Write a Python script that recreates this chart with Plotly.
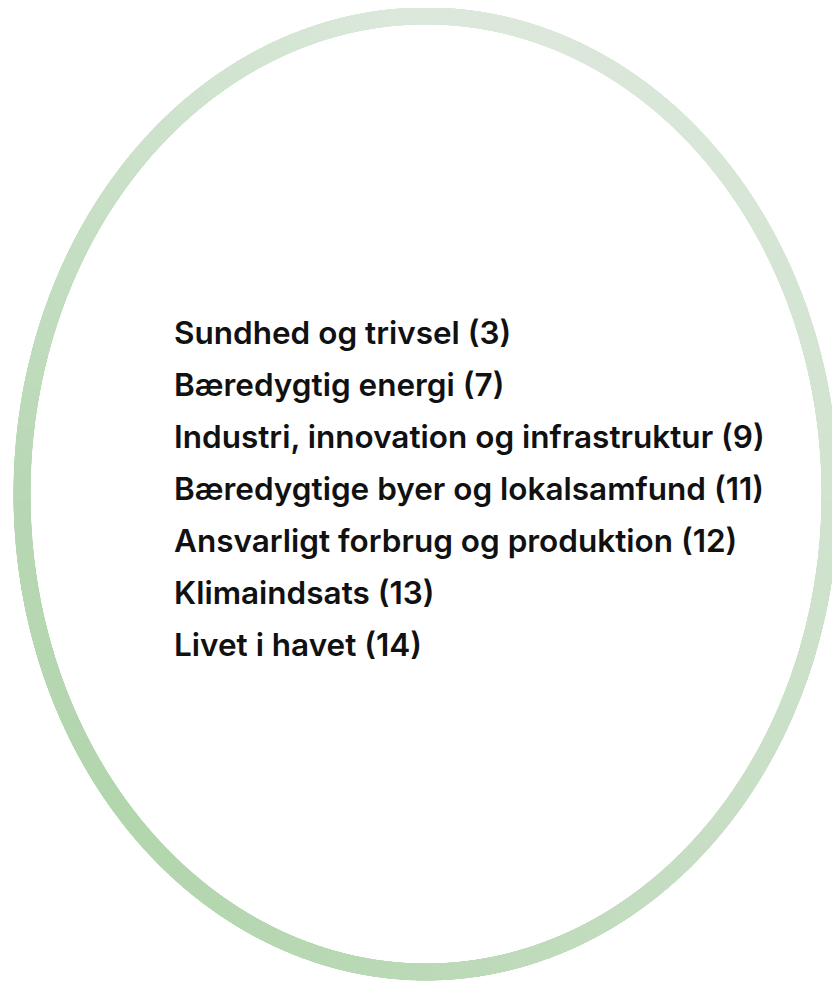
import numpy as np
import plotly.graph_objects as go

# ---- content ----
goals = [
    "Sundhed og trivsel",
    "Bæredygtig energi",
    "Industri, innovation og infrastruktur",
    "Bæredygtige byer og lokalsamfund",
    "Ansvarligt forbrug og produktion",
    "Klimaindsats",
    "Livet i havet",
]
goal_numbers = [3, 7, 9, 11, 12, 13, 14]

# ---- ring styling (decorative) ----
ring_cx, ring_cy = 426, 494
ring_rx, ring_ry = 404, 478
ring_width = 17
# colour stops around the ring, angle in degrees (0 = right, 90 = bottom in screen coords)
ring_stop_angles = [0, 45, 90, 135, 180, 225, 270, 315, 360]
ring_stop_colors = ["#d2e4d0", "#c8dfc5", "#bcdab8", "#b3d6ae", "#b8d8b4",
                    "#cce2ca", "#dde9dd", "#d9e7d8", "#d2e4d0"]

W, H = 840, 981
PAGE_OFF = 8  # default body margin of the page


def hex2rgb(h):
    h = h.lstrip("#")
    return np.array([int(h[i:i + 2], 16) for i in (0, 2, 4)], dtype=float)


stops = np.array([hex2rgb(c) for c in ring_stop_colors])
t = np.linspace(0, 360, 3600, endpoint=False)
rad = np.deg2rad(t)
xs = ring_cx + ring_rx * np.cos(rad)
ys = ring_cy + ring_ry * np.sin(rad)
cols = []
for a in t:
    r = np.interp(a, ring_stop_angles, stops[:, 0])
    g = np.interp(a, ring_stop_angles, stops[:, 1])
    b = np.interp(a, ring_stop_angles, stops[:, 2])
    cols.append(f"rgb({int(r)},{int(g)},{int(b)})")

fig = go.Figure()
fig.add_trace(go.Scatter(
    x=xs, y=ys, mode="markers",
    marker=dict(size=ring_width, color=cols, line=dict(width=0)),
    hoverinfo="skip", showlegend=False,
))

text_x = 172
first_y = 332
line_gap = 52
for i, (g, n) in enumerate(zip(goals, goal_numbers)):
    fig.add_annotation(
        x=text_x, y=first_y + i * line_gap, xref="x", yref="y",
        text=f"{g} ({n})", showarrow=False, xanchor="left", yanchor="middle",
        font=dict(family="Inter", size=31.5, color="#111111", weight=600),
    )

fig.update_layout(
    width=W - PAGE_OFF, height=H - PAGE_OFF,
    margin=dict(l=0, r=0, t=0, b=0),
    paper_bgcolor="white", plot_bgcolor="white",
    xaxis=dict(range=[PAGE_OFF, W], visible=False, fixedrange=True),
    yaxis=dict(range=[H, PAGE_OFF], visible=False, fixedrange=True),
    showlegend=False,
)
fig.write_html("out.html")
